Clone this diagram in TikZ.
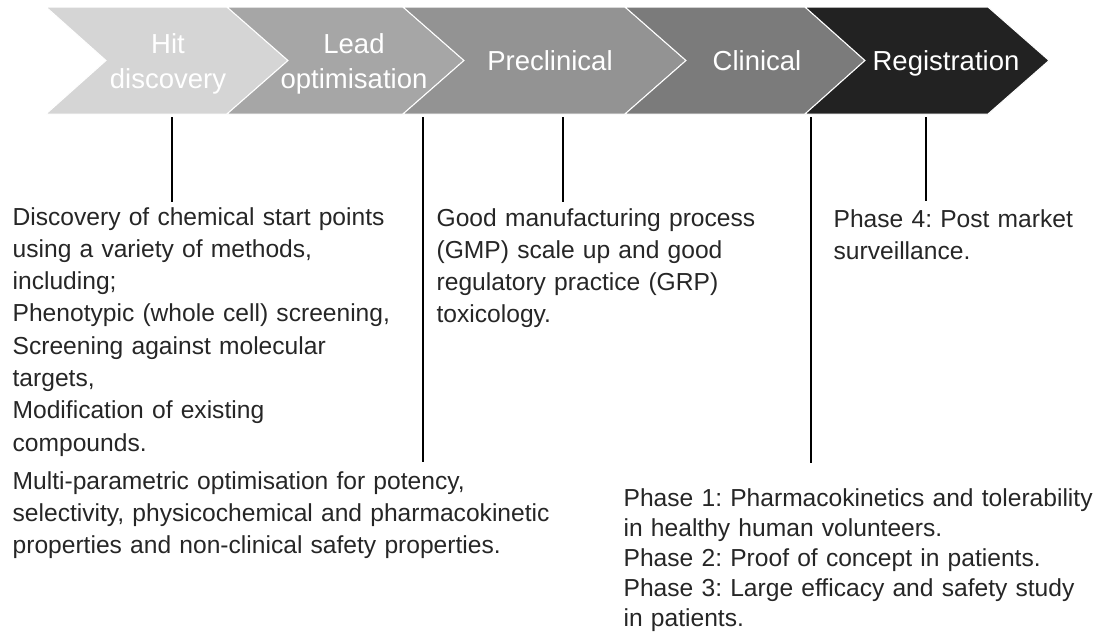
\documentclass[tikz,border=0pt]{standalone}
\usepackage{fontspec}
\setmainfont{Liberation Sans}
\usetikzlibrary{positioning}
\definecolor{ink}{HTML}{262626}
\definecolor{g1}{HTML}{D5D5D5}
\definecolor{g2}{HTML}{A6A6A6}
\definecolor{g3}{HTML}{939393}
\definecolor{g4}{HTML}{7B7B7B}
\definecolor{g5}{HTML}{222222}
\frenchspacing
\tikzstyle{chev} = [draw=white, line width=1pt]
\tikzstyle{lbl} = [text=white, align=center, inner sep=0pt,
    font=\fontsize{27.5}{35}\selectfont]
\tikzstyle{desc} = [text=ink, align=left, anchor=base west, inner sep=0pt,
    text width=700pt, font=\fontsize{24.6}{32.3}\selectfont]

\begin{document}
\begin{tikzpicture}[x=1pt,y=-1pt,line width=1.3pt]
  \useasboundingbox (0,0) rectangle (1111,632);

  % chevrons
  \fill[g1,chev] (46,7) -- (227,7) -- (288,60.5) -- (227,114) -- (46,114) -- (106,60.5) -- cycle;
  \fill[g2,chev] (227,7) -- (403,7) -- (464,60.5) -- (403,114) -- (227,114) -- (288,60.5) -- cycle;
  \fill[g3,chev] (403,7) -- (625,7) -- (686,60.5) -- (625,114) -- (403,114) -- (464,60.5) -- cycle;
  \fill[g4,chev] (625,7) -- (805,7) -- (865,60.5) -- (805,114) -- (625,114) -- (686,60.5) -- cycle;
  \fill[g5,chev] (805,7) -- (988,7) -- (1049,60.5) -- (988,114) -- (805,114) -- (865,60.5) -- cycle;

  \node[lbl] (hit)  at (168,64) {Hit\\discovery};
  \node[lbl] (lead) at (354,64) {Lead\\optimisation};
  \node[lbl] (pre)  at (550,61) {Preclinical};
  \node[lbl] (clin) at (757,61) {Clinical};
  \node[lbl] (reg)  at (946,63) {Registration};

  % descriptions
  \node[desc] (d1) at (12,225) {Discovery of chemical start points\\
    using a variety of methods,\\including;\\
    Phenotypic (whole cell) screening,\\Screening against molecular\\
    targets,\\Modification of existing\\compounds.};
  \node[desc] (d2) at (12,489) {Multi-parametric optimisation for potency,\\
    selectivity, physicochemical and pharmacokinetic\\
    properties and non-clinical safety properties.};
  \node[desc] (d3) at (436,226) {Good manufacturing process\\
    (GMP) scale up and good\\regulatory practice (GRP)\\toxicology.};
  \node[desc] (d4) at (833,227) {Phase 4: Post market\\surveillance.};
  \node[desc, font=\fontsize{24.6}{30}\selectfont] (d5) at (623,506)
    {Phase 1: Pharmacokinetics and tolerability\\
    in healthy human volunteers.\\Phase 2: Proof of concept in patients.\\
    Phase 3: Large efficacy and safety study\\in patients.};

  % leader lines
  \coordinate (t1) at (172,117);  \coordinate (b1) at (172,202);
  \coordinate (t2) at (423,117);  \coordinate (b2) at (423,462);
  \coordinate (t3) at (563,117);  \coordinate (b3) at (563,202);
  \coordinate (t4) at (811,117);  \coordinate (b4) at (811,463);
  \coordinate (t5) at (926,117);  \coordinate (b5) at (926,201);
  \draw (t1) -- (b1);
  \draw (t2) -- (b2);
  \draw (t3) -- (b3);
  \draw (t4) -- (b4);
  \draw (t5) -- (b5);
\end{tikzpicture}
\end{document}
